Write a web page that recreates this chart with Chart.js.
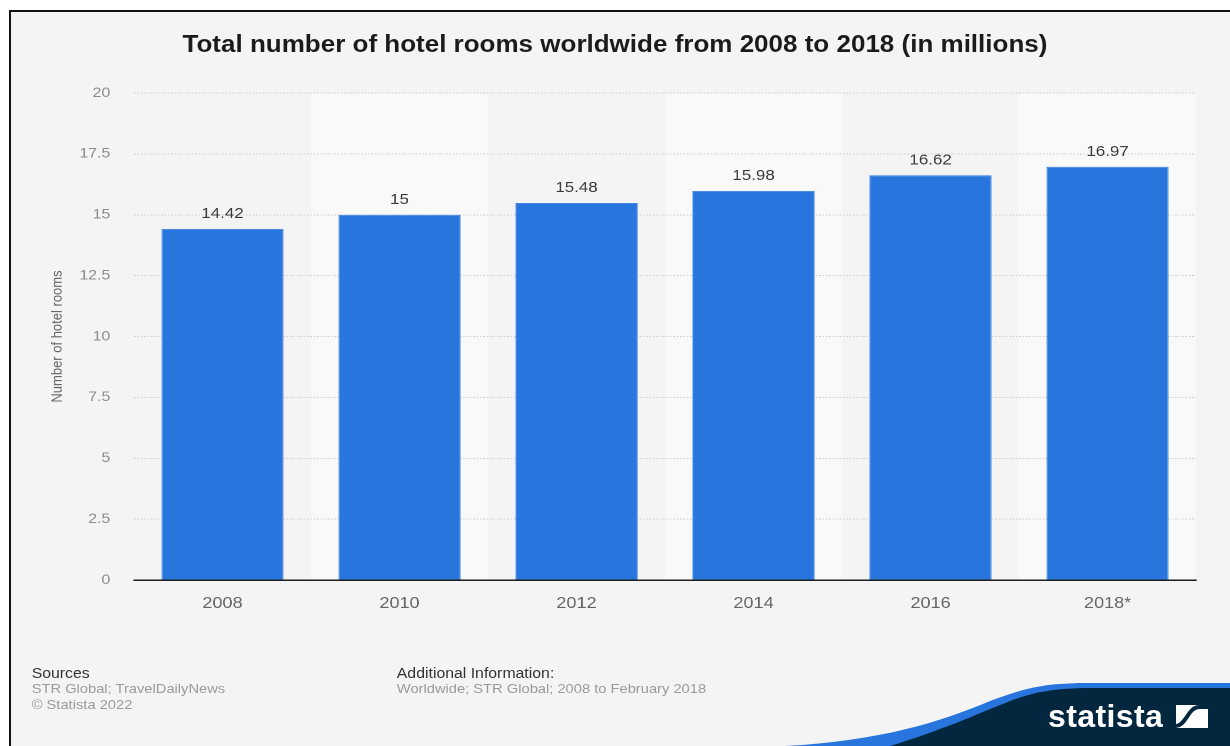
<!DOCTYPE html>
<html>
<head>
<meta charset="utf-8">
<title>Hotel rooms worldwide</title>
<script src="https://cdn.jsdelivr.net/npm/chart.js"></script>
<style>
html,body{margin:0;padding:0;background:#fff;overflow:hidden}
body{width:1230px;height:746px;position:relative;font-family:"Liberation Sans",Arial,sans-serif}
.frame{position:absolute;left:9px;top:10px;right:0;bottom:0;background:#f4f4f4;border-top:2px solid #111;border-left:2px solid #111}
.wide{position:absolute;left:0;top:0;width:1088px;height:746px;transform:scaleX(1.1305);transform-origin:0 0}
#chart{position:absolute;left:0;top:0}
.title{position:absolute;left:0;width:1088px;top:31px;text-align:center;font-weight:bold;font-size:23px;line-height:27px;color:#1b1b1b}
.foot{position:absolute;top:665.5px;font-size:13px;line-height:15.5px;color:#9a9a9a}
.foot b{font-weight:normal;font-size:14px;color:#333}
.brand{position:absolute;left:0;top:0}
.logo{position:absolute;left:1048px;top:698px;font-weight:bold;font-size:32px;line-height:36px;color:#fff;letter-spacing:0.4px}
</style>
</head>
<body>
<div class="frame"></div>
<div class="wide">
  <canvas id="chart" width="1088" height="746"></canvas>
  <div class="title">Total number of hotel rooms worldwide from 2008 to 2018 (in millions)</div>
  <div class="foot" style="left:28px"><b>Sources</b><br>STR Global; TravelDailyNews<br>© Statista 2022</div>
  <div class="foot" style="left:351px"><b>Additional Information:</b><br>Worldwide; STR Global; 2008 to February 2018</div>
</div>
<svg class="brand" width="1230" height="746">
  <path d="M785,746 C880,741 940,722 990,701 C1030,686 1050,683 1090,683 L1230,683 L1230,746 Z" fill="#2876dd"/>
  <path d="M890,746 C940,731 975,715 1010,701 C1040,690 1060,688 1095,688 L1230,688 L1230,746 Z" fill="#03273f"/>
  <rect x="1176" y="705" width="32" height="23" fill="#fff"/>
  <path d="M1176,726 C1186,726 1188,707 1199,707 L1208,707" stroke="#03273f" stroke-width="4" fill="none"/>
</svg>
<div class="logo">statista</div>
<script>
const years = ['2008', '2010', '2012', '2014', '2016', '2018*'];
const rooms = [14.42, 15, 15.48, 15.98, 16.62, 16.97];
const yMin = 0, yMax = 20, yStep = 2.5;

Chart.defaults.font.family = '"Liberation Sans", Arial, sans-serif';

// lighter background behind every second year
const bands = {
  id: 'bands',
  beforeDraw(chart) {
    const {ctx, chartArea: a, scales: {x}} = chart;
    const w = (a.right - a.left) / years.length;
    ctx.save();
    ctx.fillStyle = '#f9f9f9';
    years.forEach((_, i) => {
      if (i % 2 === 1) {
        const cx = x.getPixelForValue(i);
        ctx.fillRect(cx - w / 2, a.top, w, a.bottom - a.top);
      }
    });
    ctx.restore();
  }
};

// value printed above each bar
const barLabels = {
  id: 'barLabels',
  afterDatasetsDraw(chart) {
    const {ctx} = chart;
    const meta = chart.getDatasetMeta(0);
    ctx.save();
    ctx.font = '15px "Liberation Sans", Arial, sans-serif';
    ctx.fillStyle = '#3a3a3a';
    ctx.textAlign = 'center';
    ctx.textBaseline = 'alphabetic';
    meta.data.forEach((bar, i) => {
      ctx.fillText(String(rooms[i]), bar.x, bar.y - 11);
    });
    ctx.restore();
  }
};

new Chart(document.getElementById('chart'), {
  type: 'bar',
  data: {
    labels: years,
    datasets: [{
      data: rooms,
      backgroundColor: '#2876dd',
      borderColor: '#3f86e4',
      borderWidth: 1,
      borderSkipped: 'bottom',
      barPercentage: 0.69,
      categoryPercentage: 1
    }]
  },
  options: {
    responsive: false,
    animation: false,
    devicePixelRatio: 2,
    layout: {padding: {left: 0, right: 30, top: 93, bottom: 126}},
    plugins: {legend: {display: false}, tooltip: {enabled: false}},
    scales: {
      x: {
        afterFit(s) { s.height = 40; },
        grid: {display: false, drawTicks: false},
        border: {display: true, color: '#1e1e1e', width: 1.5},
        ticks: {color: '#666', font: {size: 16}, padding: 14, maxRotation: 0}
      },
      y: {
        min: yMin,
        max: yMax,
        afterFit(s) { s.width = 118.5; },
        ticks: {stepSize: yStep, color: '#8c8c8c', font: {size: 14}, padding: 21},
        grid: {
          drawTicks: false,
          color: c => c.tick.value === 0 ? 'rgba(0,0,0,0)' : '#cfcfcf',
          lineWidth: 1
        },
        border: {display: false, dash: [1.5, 1.5]},
        title: {
          display: true,
          text: 'Number of hotel rooms',
          color: '#666',
          font: {size: 13},
          padding: {top: 43, bottom: 0}
        }
      }
    }
  },
  plugins: [bands, barLabels]
});
</script>
</body>
</html>
